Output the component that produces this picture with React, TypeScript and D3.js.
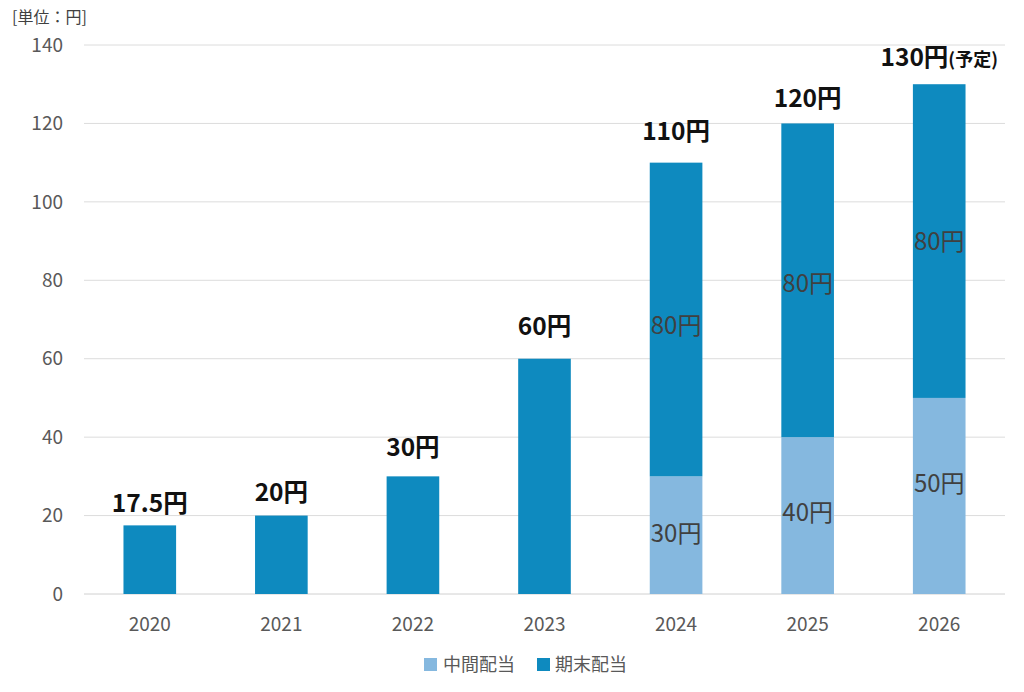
import React from "react";
import * as d3 from "d3";

const years = ["2020", "2021", "2022", "2023", "2024", "2025", "2026"];
const interim = [0, 0, 0, 0, 30, 40, 50];
const yearEnd = [17.5, 20, 30, 60, 80, 80, 80];
const totalLabels = ["17.5円", "20円", "30円", "60円", "110円", "120円", "130円"];
const yTicks = [0, 20, 40, 60, 80, 100, 120, 140];
const seriesNames = ["中間配当", "期末配当"];
const colors = ["#85b8df", "#0e8abf"];

// label layout nudges (px), as placed in the reference
const topLabelGap = [13, 15, 20, 24, 23, 16, 18];
const interimNudge = [0, 0, 0, 0, -2.5, -3.5, -13];
const yearEndNudge = [0, 0, 0, 0, 5, 2.5, 0];

const W = 1024;
const H = 692;
const FONT = "'Noto Sans CJK JP', 'Noto Sans', sans-serif";

export default function App() {
  const x = d3.scaleBand<string>().domain(years).range([84, 1005]).paddingInner(0.6).paddingOuter(0.3);
  const y = d3.scaleLinear().domain([0, 140]).range([594, 45]);
  const stackData = years.map((yr, i) => ({ year: yr, a: interim[i], b: yearEnd[i] }));
  const stacked = d3.stack<any>().keys(["a", "b"])(stackData);
  const nudges = [interimNudge, yearEndNudge];

  return (
    <svg width={W} height={H} style={{ position: "absolute", left: 0, top: 0, background: "#fff" }} fontFamily={FONT}>
      <text x={12} y={23} fontSize={16} fill="#404040">[単位：円]</text>
      {yTicks.map((t) => (
        <g key={t}>
          <line x1={84} x2={1005} y1={y(t)} y2={y(t)} stroke={t === 0 ? "#d0d0d0" : "#dcdcdc"} strokeWidth={1} />
          <text x={63} y={y(t)} dy="0.35em" textAnchor="end" fontSize={19} fill="#595959">{t}</text>
        </g>
      ))}
      {stacked.map((layer, li) => (
        <g key={li}>
          {layer.map((d, i) => {
            const h = y(d[0]) - y(d[1]);
            if (h <= 0) return null;
            const bx = x(years[i])!;
            return (
              <rect key={i} x={bx} y={y(d[1])} width={x.bandwidth()} height={h} fill={colors[li]} />
            );
          })}
        </g>
      ))}
      {stacked.map((layer, li) =>
        layer.map((d, i) => {
          const v = d[1] - d[0];
          if (v <= 0 || interim[i] === 0) return null;
          const cx = x(years[i])! + x.bandwidth() / 2;
          const cy = (y(d[0]) + y(d[1])) / 2 + nudges[li][i];
          return (
            <text key={`${li}-${i}`} x={cx} y={cy} dy="0.38em" textAnchor="middle" fontSize={24} fill="#404040">
              {v}円
            </text>
          );
        })
      )}
      {years.map((yr, i) => {
        const cx = x(yr)! + x.bandwidth() / 2;
        const top = y(interim[i] + yearEnd[i]);
        return (
          <text key={yr} x={cx} y={top - topLabelGap[i]} textAnchor="middle" fontSize={24.5} fontWeight="bold" fill="#111">
            {totalLabels[i]}
            {i === years.length - 1 ? <tspan fontSize={18}>(予定)</tspan> : null}
          </text>
        );
      })}
      {years.map((yr) => (
        <text key={yr} x={x(yr)! + x.bandwidth() / 2} y={631} textAnchor="middle" fontSize={19} fill="#595959">{yr}</text>
      ))}
      <g>
        <rect x={424} y={658} width={13} height={13} fill={colors[0]} />
        <text x={443} y={671} fontSize={18} fill="#595959">{seriesNames[0]}</text>
        <rect x={537} y={658} width={13} height={13} fill={colors[1]} />
        <text x={555} y={671} fontSize={18} fill="#595959">{seriesNames[1]}</text>
      </g>
    </svg>
  );
}
